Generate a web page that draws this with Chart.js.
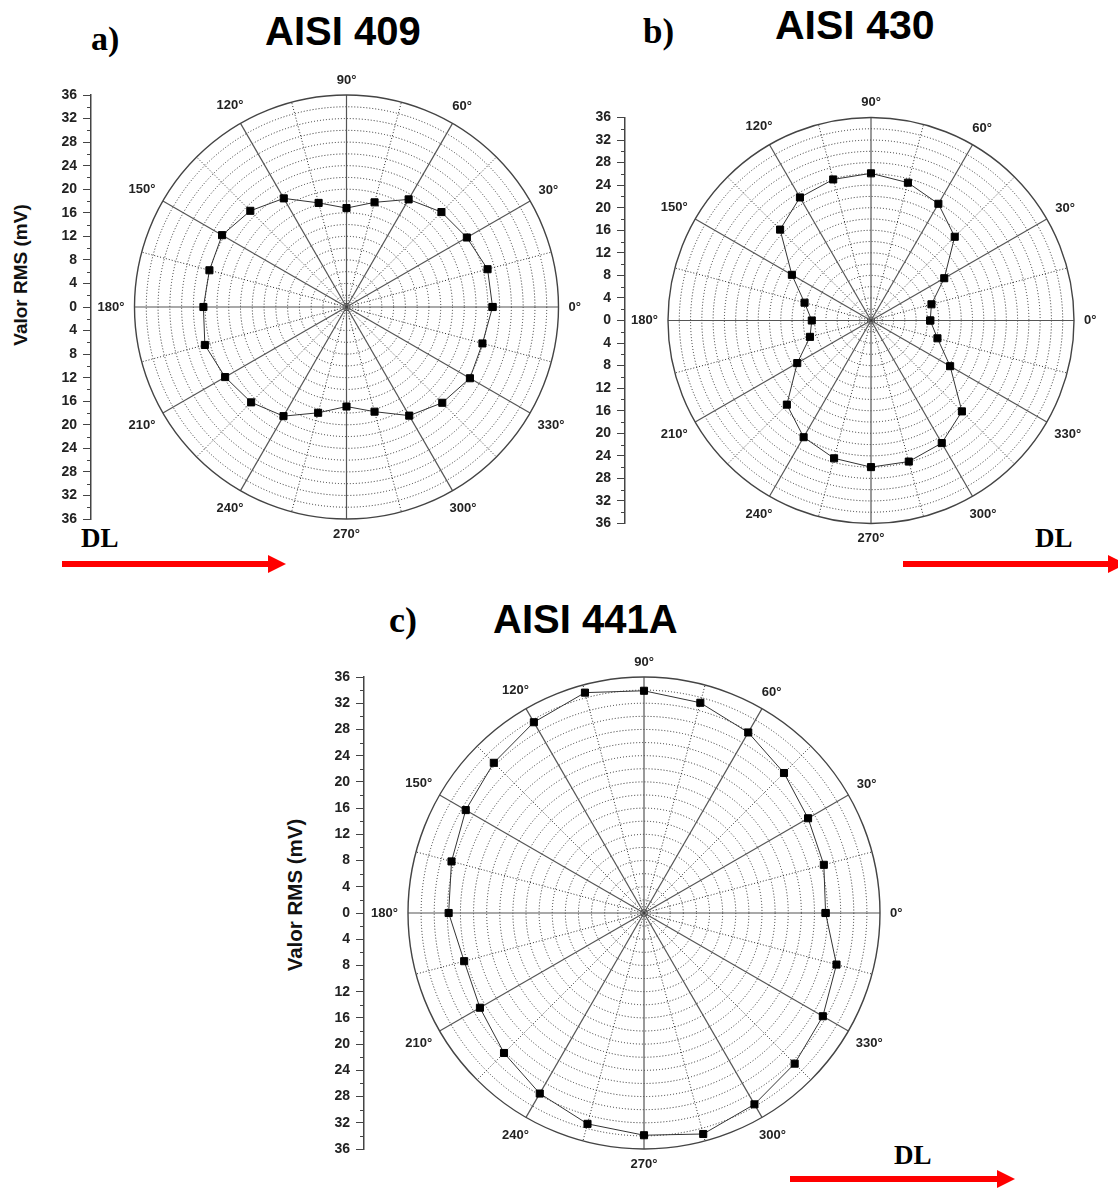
<!DOCTYPE html>
<html>
<head>
<meta charset="utf-8">
<script src="https://cdn.jsdelivr.net/npm/chart.js@4.4.1/dist/chart.umd.min.js"></script>
<style>
    body { margin: 0; background: #fff; width: 1118px; height: 1189px; position: relative; overflow: hidden; }
    canvas { position: absolute; }
    .txt { position: absolute; line-height: 1; white-space: nowrap; color: #000; font-weight: bold; }
    .sans { font-family: "Liberation Sans", Arial, sans-serif; }
    .serif { font-family: "Liberation Serif", "Times New Roman", serif; }
    .ytitle { position: absolute; font-family: "Liberation Sans", Arial, sans-serif; font-weight: bold;
              white-space: nowrap; line-height: 1; transform: translate(-50%, -50%) rotate(-90deg); color: #111; }
    svg { position: absolute; left: 0; top: 0; }
</style>
</head>
<body>
<svg width="1118" height="1189" id="arrows"></svg>
<script>
var angles = [0, 15, 30, 45, 60, 75, 90, 105, 120, 135, 150, 165,
              180, 195, 210, 225, 240, 255, 270, 285, 300, 315, 330, 345];

var rms409 = [24.8, 24.8, 23.6, 22.8, 21.1, 18.4, 16.8, 18.3, 21.3, 23.1, 24.4, 24.1,
              24.3, 24.9, 23.8, 22.9, 21.4, 18.6, 16.9, 18.4, 21.3, 23.0, 24.2, 23.9];

var rms430 = [10.5, 11.1, 15.0, 21.0, 23.9, 25.3, 26.1, 25.9, 25.2, 22.8, 16.2, 12.2,
              10.5, 11.2, 15.1, 21.1, 23.9, 25.3, 26.0, 25.9, 25.1, 22.8, 16.2, 12.2];

var rms441A = [27.7, 28.4, 28.9, 30.2, 31.8, 33.2, 33.9, 34.8, 33.6, 32.4, 31.4, 30.4,
               29.8, 28.4, 28.9, 30.2, 31.8, 33.3, 33.9, 34.9, 33.7, 32.5, 31.5, 30.4];

// rotulos angulares (a cada 30 graus)
var labelAngles = [0, 30, 60, 90, 120, 150, 180, 210, 240, 270, 300, 330];
var angleLabels = ["0°", "30°", "60°", "90°", "120°", "150°", "180°", "210°", "240°", "270°", "300°", "330°"];

var R_MAX = 36;
var RING_STEP = 2;
var TICK_STEP = 4;

// geometria de cada painel (pixels da pagina)
var panels = [
    { values: rms409, box: { left: 0, top: 60, width: 610, height: 520 }, cx: 346.5, cy: 307, r: 212, axisX: 91 },
    { values: rms430, box: { left: 560, top: 60, width: 558, height: 520 }, cx: 871, cy: 320.5, r: 203, axisX: 625 },
    { values: rms441A, box: { left: 250, top: 640, width: 700, height: 545 }, cx: 644, cy: 913, r: 236, axisX: 364 }
];

// textos soltos
var texts = [
    { t: "a)", cls: "serif", size: 34, x: 91, base: 51 },
    { t: "AISI 409", cls: "sans", size: 40, x: 265, base: 45 },
    { t: "b)", cls: "serif", size: 35, x: 643, base: 44 },
    { t: "AISI 430", cls: "sans", size: 41, x: 775, base: 40 },
    { t: "c)", cls: "serif", size: 36, x: 389, base: 632 },
    { t: "AISI 441A", cls: "sans", size: 40, x: 493, base: 633 },
    { t: "DL", cls: "serif", size: 27, x: 81, base: 548 },
    { t: "DL", cls: "serif", size: 27, x: 1035, base: 548 },
    { t: "DL", cls: "serif", size: 27, x: 894, base: 1165 }
];

texts.forEach(function (o) {
    var d = document.createElement("div");
    d.className = "txt " + o.cls;
    d.textContent = o.t;
    d.style.fontSize = o.size + "px";
    d.style.left = o.x + "px";
    d.style.top = (o.base - 0.845 * o.size) + "px";
    document.body.appendChild(d);
});

[{ x: 20, y: 275, size: 19 }, { x: 295, y: 895, size: 20.5 }].forEach(function (o) {
    var d = document.createElement("div");
    d.className = "ytitle";
    d.textContent = "Valor RMS (mV)";
    d.style.fontSize = o.size + "px";
    d.style.left = o.x + "px";
    d.style.top = o.y + "px";
    document.body.appendChild(d);
});

// setas vermelhas (DL)
var svg = document.getElementById("arrows");
[{ x1: 62, x2: 286, y: 564 }, { x1: 903, x2: 1126, y: 564 }, { x1: 790, x2: 1015, y: 1179 }].forEach(function (a) {
    var shaft = document.createElementNS("http://www.w3.org/2000/svg", "rect");
    shaft.setAttribute("x", a.x1); shaft.setAttribute("y", a.y - 3);
    shaft.setAttribute("width", a.x2 - 17 - a.x1); shaft.setAttribute("height", 6);
    shaft.setAttribute("fill", "#ff0000");
    svg.appendChild(shaft);
    var head = document.createElementNS("http://www.w3.org/2000/svg", "polygon");
    head.setAttribute("points", (a.x2 - 18) + "," + (a.y - 9) + " " + a.x2 + "," + a.y + " " + (a.x2 - 18) + "," + (a.y + 9));
    head.setAttribute("fill", "#ff0000");
    svg.appendChild(head);
});

// grade polar desenhada com as escalas do grafico
var polarGrid = {
    id: "polarGrid",
    beforeDatasetsDraw: function (chart) {
        var ctx = chart.ctx;
        var x = chart.scales.x, y = chart.scales.y;
        var cx = x.getPixelForValue(0), cy = y.getPixelForValue(0);
        var k = cy - y.getPixelForValue(1);
        var R = R_MAX * k;
        ctx.save();
        // circulos pontilhados
        ctx.strokeStyle = "#2a2a2a";
        ctx.lineWidth = 1;
        ctx.setLineDash([1, 2]);
        for (var v = RING_STEP; v < R_MAX; v += RING_STEP) {
            ctx.beginPath();
            ctx.arc(cx, cy, v * k, 0, Math.PI * 2);
            ctx.stroke();
        }
        // raios
        for (var a = 0; a < 360; a += 15) {
            var t = a * Math.PI / 180;
            if (a % 30 === 0) {
                ctx.setLineDash([]);
                ctx.strokeStyle = "#555";
                ctx.lineWidth = 1.2;
            } else {
                ctx.setLineDash([1, 2]);
                ctx.strokeStyle = "#2a2a2a";
                ctx.lineWidth = 1;
            }
            ctx.beginPath();
            ctx.moveTo(cx, cy);
            ctx.lineTo(cx + R * Math.cos(t), cy - R * Math.sin(t));
            ctx.stroke();
        }
        // circulo externo
        ctx.setLineDash([]);
        ctx.strokeStyle = "#444";
        ctx.lineWidth = 1.4;
        ctx.beginPath();
        ctx.arc(cx, cy, R, 0, Math.PI * 2);
        ctx.stroke();
        ctx.restore();
    },
    afterDraw: function (chart) {
        var ctx = chart.ctx;
        var x = chart.scales.x, y = chart.scales.y;
        var cx = x.getPixelForValue(0), cy = y.getPixelForValue(0);
        var k = cy - y.getPixelForValue(1);
        var R = R_MAX * k;
        ctx.save();
        // rotulos dos angulos
        ctx.font = "bold 13px 'Liberation Sans', Arial, sans-serif";
        ctx.fillStyle = "#222";
        ctx.textAlign = "center";
        ctx.textBaseline = "middle";
        labelAngles.forEach(function (a, i) {
            var t = a * Math.PI / 180;
            var w = ctx.measureText(angleLabels[i]).width;
            var d = R + 10 + Math.abs(Math.cos(t)) * w / 2 + Math.abs(Math.sin(t)) * 5;
            ctx.fillText(angleLabels[i], cx + d * Math.cos(t), cy - d * Math.sin(t));
        });
        // marcas menores do eixo
        var ax = chart.chartArea.left;
        ctx.strokeStyle = "#444";
        ctx.lineWidth = 1;
        for (var v = -R_MAX + RING_STEP; v < R_MAX; v += TICK_STEP) {
            var py = Math.round(y.getPixelForValue(v)) + 0.5;
            ctx.beginPath();
            ctx.moveTo(ax - 4, py);
            ctx.lineTo(ax, py);
            ctx.stroke();
        }
        ctx.restore();
    }
};

panels.forEach(function (p) {
    var canvas = document.createElement("canvas");
    canvas.width = p.box.width;
    canvas.height = p.box.height;
    canvas.style.left = p.box.left + "px";
    canvas.style.top = p.box.top + "px";
    document.body.appendChild(canvas);

    var yw = 50;
    var pad = {
        left: p.axisX - p.box.left - yw,
        right: p.box.left + p.box.width - (p.cx + p.r),
        top: p.cy - p.r - p.box.top,
        bottom: p.box.top + p.box.height - (p.cy + p.r)
    };
    var xMin = -R_MAX * (p.cx - p.axisX) / p.r;

    // converte (angulo, valor) para coordenadas cartesianas
    var pts = angles.map(function (a, i) {
        var t = a * Math.PI / 180;
        return { x: p.values[i] * Math.cos(t), y: p.values[i] * Math.sin(t) };
    });
    pts.push(pts[0]);

    new Chart(canvas, {
        type: "scatter",
        data: {
            datasets: [{
                data: pts,
                showLine: true,
                borderColor: "#333",
                borderWidth: 1,
                pointStyle: "rect",
                pointRadius: 5,
                pointBackgroundColor: "#000",
                pointBorderColor: "#000",
                pointBorderWidth: 1
            }]
        },
        options: {
            responsive: false,
            animation: false,
            layout: { padding: pad },
            plugins: { legend: { display: false }, tooltip: { enabled: false } },
            scales: {
                x: { type: "linear", min: xMin, max: R_MAX, display: false },
                y: {
                    type: "linear",
                    min: -R_MAX,
                    max: R_MAX,
                    position: "left",
                    afterFit: function (s) { s.width = yw; },
                    grid: { drawOnChartArea: false, tickLength: 8, color: "#444", lineWidth: 1 },
                    border: { color: "#444", width: 1.5 },
                    ticks: {
                        stepSize: TICK_STEP,
                        autoSkip: false,
                        padding: 6,
                        color: "#222",
                        font: { family: "'Liberation Sans', Arial, sans-serif", size: 14, weight: "bold" },
                        callback: function (v) { return Math.abs(v); }
                    }
                }
            }
        },
        plugins: [polarGrid]
    });
});
</script>
</body>
</html>
